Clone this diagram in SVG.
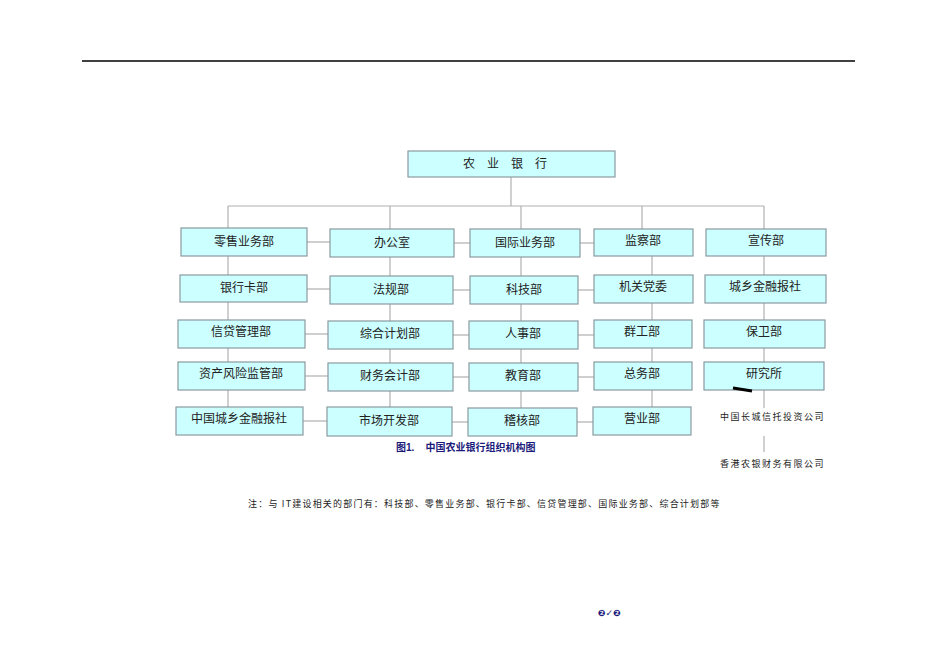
<svg xmlns="http://www.w3.org/2000/svg" width="950" height="672" viewBox="0 0 950 672">
<style>
.b{fill:#ccffff;stroke:#8a9aa0;stroke-width:1.2}
.t{font-family:"Noto Sans CJK SC","Liberation Serif",serif;font-size:12px;fill:#222;text-anchor:middle}
.s{font-family:"Noto Sans CJK SC",serif;font-size:9px;fill:#222}
.c line{stroke:#b0b0b0;stroke-width:1.2}
</style>
<rect width="950" height="672" fill="#fff"/>
<line x1="82" y1="61" x2="855" y2="61" stroke="#000" stroke-width="1.5"/>
<g class="c">
<line x1="511" y1="177" x2="511" y2="206"/>
<line x1="228" y1="206" x2="764" y2="206"/>
<line x1="228" y1="206" x2="228" y2="228"/><line x1="390" y1="206" x2="390" y2="229"/><line x1="521" y1="206" x2="521" y2="229"/><line x1="642" y1="206" x2="642" y2="229"/><line x1="764" y1="206" x2="764" y2="229"/>
<line x1="228" y1="256" x2="228" y2="407"/><line x1="390" y1="257" x2="390" y2="407"/><line x1="521" y1="257" x2="521" y2="408"/><line x1="652" y1="256" x2="652" y2="407"/><line x1="764" y1="256" x2="764" y2="362"/>
<line x1="307" y1="242" x2="330" y2="242"/><line x1="454" y1="243" x2="470" y2="243"/><line x1="580" y1="243" x2="594" y2="243"/><line x1="713" y1="242" x2="706" y2="242"/>
<line x1="307" y1="289" x2="330" y2="289"/><line x1="453" y1="290" x2="470" y2="290"/><line x1="578" y1="290" x2="594" y2="290"/>
<line x1="305" y1="334" x2="328" y2="334"/><line x1="453" y1="335" x2="469" y2="335"/><line x1="578" y1="335" x2="594" y2="335"/>
<line x1="305" y1="376" x2="328" y2="376"/><line x1="453" y1="377" x2="469" y2="377"/><line x1="578" y1="377" x2="594" y2="377"/>
<line x1="303" y1="421" x2="327" y2="421"/><line x1="452" y1="422" x2="468" y2="422"/><line x1="577" y1="422" x2="593" y2="422"/>
<line x1="764" y1="390" x2="764" y2="408"/><line x1="764" y1="436" x2="764" y2="452"/>
</g>
<g id="n0"><rect class="b" x="408" y="151" width="207" height="26"/><text class="t" x="511" y="168" letter-spacing="12">农业银行</text></g>
<g id="c1">
<g id="n11"><rect class="b" x="181" y="228" width="126" height="28"/><text class="t" x="244" y="246">零售业务部</text></g>
<g id="n12"><rect class="b" x="180" y="275" width="127" height="27"/><text class="t" x="244" y="292">银行卡部</text></g>
<g id="n13"><rect class="b" x="178" y="320" width="127" height="28"/><text class="t" x="241" y="336">信贷管理部</text></g>
<g id="n14"><rect class="b" x="178" y="362" width="127" height="28"/><text class="t" x="241" y="378">资产风险监管部</text></g>
<g id="n15"><rect class="b" x="176" y="407" width="127" height="28"/><text class="t" x="239" y="423">中国城乡金融报社</text></g>
</g>
<g id="c2">
<g id="n21"><rect class="b" x="330" y="229" width="124" height="28"/><text class="t" x="392" y="247">办公室</text></g>
<g id="n22"><rect class="b" x="330" y="276" width="123" height="28"/><text class="t" x="391" y="294">法规部</text></g>
<g id="n23"><rect class="b" x="328" y="321" width="125" height="28"/><text class="t" x="390" y="338">综合计划部</text></g>
<g id="n24"><rect class="b" x="328" y="363" width="125" height="28"/><text class="t" x="390" y="380">财务会计部</text></g>
<g id="n25"><rect class="b" x="327" y="407" width="125" height="29"/><text class="t" x="389" y="425">市场开发部</text></g>
</g>
<g id="c3">
<g id="n31"><rect class="b" x="470" y="229" width="110" height="28"/><text class="t" x="525" y="247">国际业务部</text></g>
<g id="n32"><rect class="b" x="470" y="276" width="108" height="28"/><text class="t" x="524" y="294">科技部</text></g>
<g id="n33"><rect class="b" x="469" y="321" width="109" height="28"/><text class="t" x="523" y="338">人事部</text></g>
<g id="n34"><rect class="b" x="469" y="363" width="109" height="28"/><text class="t" x="523" y="380">教育部</text></g>
<g id="n35"><rect class="b" x="468" y="408" width="109" height="28"/><text class="t" x="522" y="425">稽核部</text></g>
</g>
<g id="c4">
<g id="n41"><rect class="b" x="594" y="229" width="99" height="27"/><text class="t" x="643" y="245">监察部</text></g>
<g id="n42"><rect class="b" x="594" y="275" width="99" height="28"/><text class="t" x="643" y="291">机关党委</text></g>
<g id="n43"><rect class="b" x="594" y="320" width="98" height="28"/><text class="t" x="642" y="336">群工部</text></g>
<g id="n44"><rect class="b" x="594" y="362" width="98" height="28"/><text class="t" x="642" y="378">总务部</text></g>
<g id="n45"><rect class="b" x="593" y="407" width="98" height="28"/><text class="t" x="642" y="423">营业部</text></g>
</g>
<g id="c5">
<g id="n51"><rect class="b" x="706" y="229" width="120" height="27"/><text class="t" x="766" y="245">宣传部</text></g>
<g id="n52"><rect class="b" x="705" y="275" width="121" height="28"/><text class="t" x="765" y="291">城乡金融报社</text></g>
<g id="n53"><rect class="b" x="704" y="320" width="121" height="28"/><text class="t" x="764" y="336">保卫部</text></g>
<g id="n54"><rect class="b" x="704" y="362" width="120" height="28"/><text class="t" x="764" y="378">研究所</text></g>
</g>
<line x1="733" y1="388" x2="752" y2="391" stroke="#000" stroke-width="3"/>
<text class="s" x="720" y="420" letter-spacing="1.5">中国长城信托投资公司</text>
<text class="s" x="720" y="467" letter-spacing="1.5">香港农银财务有限公司</text>
<text x="396" y="451" font-family="Liberation Sans,Noto Sans CJK SC,sans-serif" font-size="10" font-weight="bold" fill="#1a1a7a" xml:space="preserve">图1.    中国农业银行组织机构图</text>
<text class="s" x="248" y="507" letter-spacing="1.2">注：与 IT建设相关的部门有：科技部、零售业务部、银行卡部、信贷管理部、国际业务部、综合计划部等</text>
<text x="598" y="616" font-family="DejaVu Sans,sans-serif" font-size="9" font-weight="bold" fill="#1a1a7a">❷✓❷</text>
</svg>
